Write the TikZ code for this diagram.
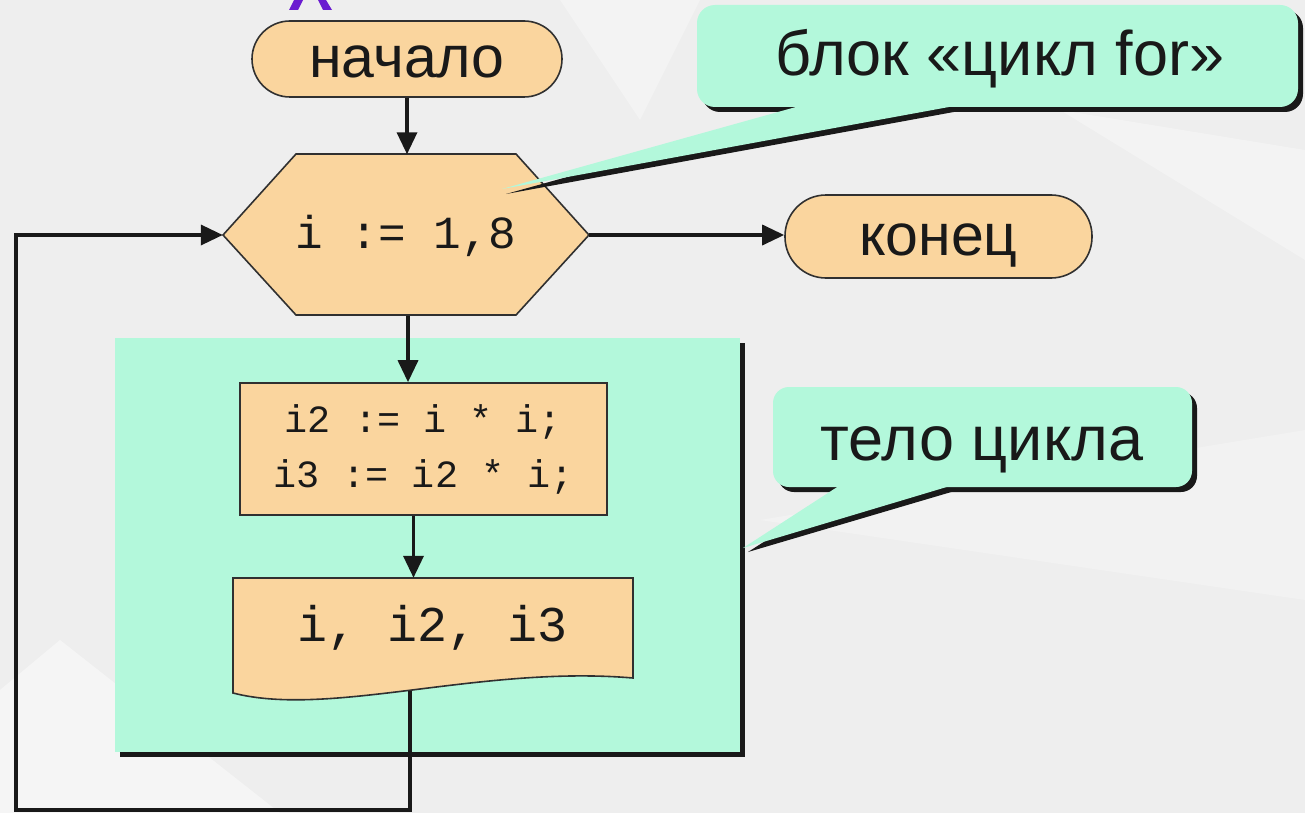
\documentclass[tikz,border=0pt]{standalone}
\usepackage{fontspec}
\setmainfont{Liberation Sans}
\newfontfamily\codefont{Liberation Mono}
\usetikzlibrary{arrows.meta,calc}
\definecolor{peach}{RGB}{250,213,158}
\definecolor{mint}{RGB}{179,248,219}
\definecolor{bgray}{RGB}{238,238,238}
\definecolor{ttl}{RGB}{106,27,208}
\definecolor{ink}{RGB}{25,25,25}
\begin{document}
\begin{tikzpicture}[x=1pt,y=-1pt,
  flowline/.style={line width=3.5pt, ink, line join=miter},
  arr/.style={flowline, -{Triangle[length=22pt,width=20pt]}},
  outline/.style={draw=ink!90, line width=1.6pt, fill=peach},
  term/.style={outline, rounded corners=38pt, minimum width=310pt, minimum height=76pt,
    inner sep=0pt, text=ink, text height=38pt, text depth=0pt, font=\fontsize{59}{62}\selectfont},
  codetext/.style={inner sep=0pt, text=ink},
  proc/.style={outline, minimum width=367pt, minimum height=132pt, inner sep=0pt,
    align=center, text=ink, font=\codefont\fontsize{38.5}{55}\selectfont},
  calloutfill/.style={fill=mint},
  calloutshadow/.style={fill=ink},
  callouttext/.style={inner sep=0pt, anchor=base, text=ink, font=\fontsize{63}{66}\selectfont}
]
\useasboundingbox (0,0) rectangle (1305,813);
% background
\fill[bgray] (0,0) rectangle (1305,813);
\fill[white,opacity=0.45] (0,690) -- (60,640) -- (280,813) -- (0,813) -- cycle;
\fill[white,opacity=0.3] (560,0) -- (700,0) -- (640,120) -- cycle;
\fill[white,opacity=0.3] (1060,110) -- (1305,150) -- (1305,260) -- cycle;
\fill[white,opacity=0.25] (760,520) -- (1305,430) -- (1305,600) -- cycle;
% partial title glyph
\fill[ttl] (294,0) -- (303,0) -- (298,10) -- (289,10) -- cycle;
\fill[ttl] (318,0) -- (326,0) -- (332,10) -- (323,10) -- cycle;
% loop body
\fill[ink] (120,343) rectangle (745,757);
\fill[mint] (115,338) rectangle (740,752);
% terminators
\node[term] (start) at (407,59) {начало};
\node[term, minimum width=307pt, minimum height=83pt, rounded corners=41pt] (stop) at (938.5,236.5) {конец};
% hexagon
\coordinate (hc) at (406,235);
\filldraw[outline] ($(hc)+(-183,0)$) -- ($(hc)+(-110,-81)$) -- ($(hc)+(110,-81)$) -- ($(hc)+(183,0)$)
  -- ($(hc)+(110,80)$) -- ($(hc)+(-110,80)$) -- cycle;
\node[codetext, minimum width=366pt, minimum height=161pt, text height=26pt, text depth=0pt,
  font=\codefont\fontsize{46}{50}\selectfont] (hex) at (hc) {i := 1,8};
% process
\node[proc] (proc) at (423.5,449) {i2 := i * i;\\i3 := i2 * i;};
% document
\filldraw[outline] (233,578) -- (633,578) -- (633,678) .. controls (480,665) and (330,718) .. (233,693) -- cycle;
\node[codetext, minimum width=400pt, minimum height=100pt, font=\codefont\fontsize{50}{54}\selectfont] (doc) at (433,628) {i, i2, i3};
% connectors
\coordinate (docout) at (410,691);
\coordinate (loopR) at (410,810);
\coordinate (loopL) at (16,810);
\draw[arr] (start.south) -- (start.south |- hex.north);
\draw[arr] (hex.east) -- (hex.east -| stop.west);
\draw[arr] ([xshift=2pt]hex.south) -- ([xshift=2pt]hex.south |- proc.north);
\draw[arr] ([xshift=-10pt]proc.south) -- ([xshift=-10pt]proc.south |- doc.north);
\draw[arr] (docout) -- (loopR) -- (loopL) |- (hex.west);
% callout 1
\coordinate (tip1) at (502,189);
\fill[calloutshadow, rounded corners=18pt] (702,10) rectangle (1303,112);
\fill[calloutshadow] (826,105) -- ($(tip1)+(4,5)$) -- (992,105) -- cycle;
\fill[calloutfill, rounded corners=18pt] (697,5) rectangle (1298,107);
\fill[calloutfill] (821,100) -- (tip1) -- (987,100) -- cycle;
\node[callouttext] (c1) at (1000,76) {блок «цикл for»};
% callout 2
\coordinate (tip2) at (743,548);
\fill[calloutshadow, rounded corners=16pt] (778,392) rectangle (1197,492);
\fill[calloutshadow] (853,485) -- ($(tip2)+(5,4)$) -- (975,485) -- cycle;
\fill[calloutfill, rounded corners=16pt] (773,387) rectangle (1192,487);
\fill[calloutfill] (848,480) -- (tip2) -- (970,480) -- cycle;
\node[callouttext] (c2) at (982,460) {тело цикла};
\end{tikzpicture}
\end{document}
